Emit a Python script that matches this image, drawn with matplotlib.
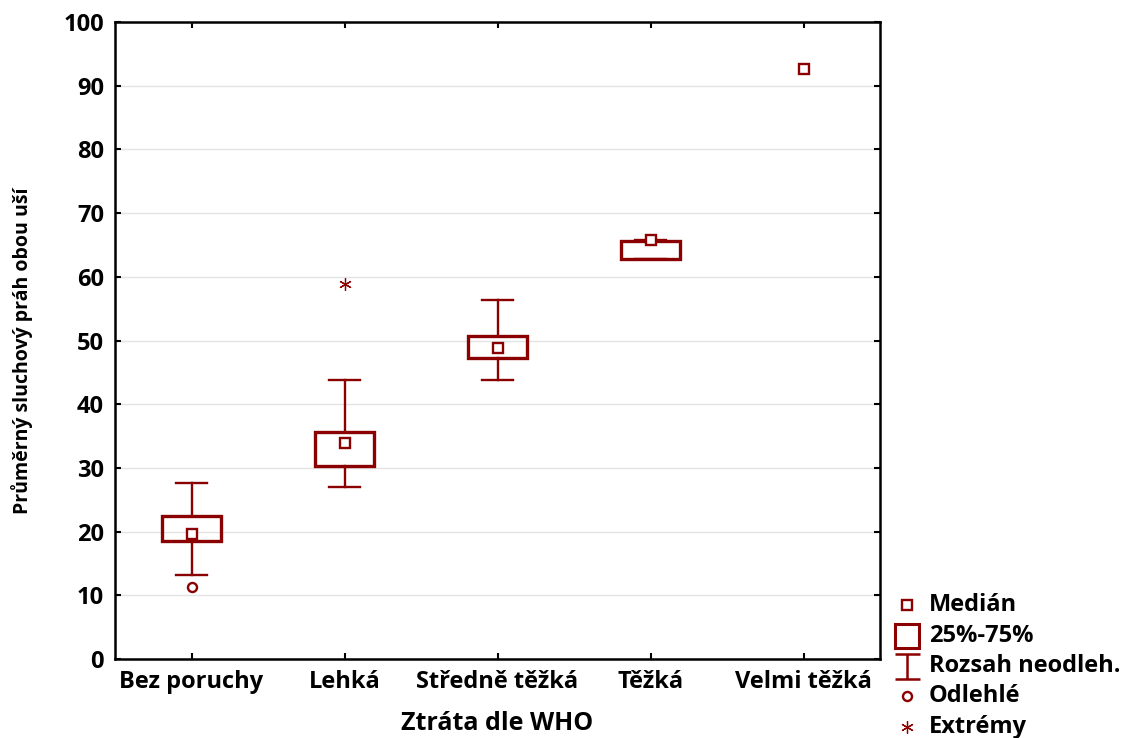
import matplotlib.pyplot as plt
from matplotlib.lines import Line2D
from matplotlib.patches import Rectangle
from matplotlib.path import Path

plt.rcParams['font.family'] = ['Open Sans', 'DejaVu Sans']
plt.rcParams['font.weight'] = 'bold'

# data
kategorie = ['Bez poruchy', 'Lehká', 'Středně těžká', 'Těžká', 'Velmi těžká']
median = [19.6, 33.9, 48.8, 65.8, 92.6]
q1 = [18.5, 30.3, 47.3, 62.8, None]
q3 = [22.4, 35.6, 50.7, 65.6, None]
whis_lo = [13.2, 27.0, 43.8, 62.8, None]
whis_hi = [27.6, 43.8, 56.4, 65.8, None]
odlehle_x = [0]
odlehle_y = [11.3]
extremy_x = [1]
extremy_y = [58.9]

barva = '#8b0000'

fig = plt.figure(figsize=(11.27, 7.38), dpi=100)
ax = fig.add_axes([115/1127, 79/738, 765/1127, 637/738])

box_w = 0.39
cap_w = 0.2
for i in range(len(kategorie)):
    if q1[i] is not None:
        # fousy
        ax.plot([i, i], [whis_lo[i], q1[i]], color=barva, lw=1.7, zorder=3)
        ax.plot([i, i], [q3[i], whis_hi[i]], color=barva, lw=1.7, zorder=3)
        ax.plot([i - cap_w/2, i + cap_w/2], [whis_lo[i]] * 2, color=barva, lw=1.7, zorder=3)
        ax.plot([i - cap_w/2, i + cap_w/2], [whis_hi[i]] * 2, color=barva, lw=1.7, zorder=3)
        ax.add_patch(Rectangle((i - box_w/2, q1[i]), box_w, q3[i] - q1[i],
                               fill=False, edgecolor=barva, lw=2.4, zorder=4))
    ax.plot(i, median[i], marker='s', ms=7.5, mfc='white', mec=barva, mew=1.7, ls='none', zorder=5)

ax.plot(odlehle_x, odlehle_y, marker='o', ms=6.5, mfc='white', mec=barva, mew=1.7, ls='none', zorder=5)
ax.plot(extremy_x, extremy_y, marker=(6, 2, 0), ms=9, color=barva, mew=0.9, ls='none', zorder=5)

ax.set_xlim(-0.5, 4.5)
ax.set_ylim(0, 100)
ax.set_yticks(range(0, 101, 10))
ax.set_xticks(range(len(kategorie)))
ax.set_xticklabels(kategorie)
ax.tick_params(direction='in', length=4, width=1.5, top=True, right=True, labelsize=17, pad=8)
ax.grid(axis='y', color='#e3e3e3', lw=1)
ax.set_axisbelow(True)
for s in ax.spines.values():
    s.set_linewidth(1.8)

fig.text(22/1127, 1 - 351/738, 'Průměrný sluchový práh obou uší', rotation=90,
         ha='center', va='center', fontsize=14, fontweight='bold')
fig.text(497/1127, 1 - 724/738, 'Ztráta dle WHO', ha='center', va='center',
         fontsize=18, fontweight='bold')

# legenda
i_tvar = Path([(-1, 1), (1, 1), (0, 1), (0, -1), (-1, -1), (1, -1)],
              [Path.MOVETO, Path.LINETO, Path.MOVETO, Path.LINETO, Path.MOVETO, Path.LINETO])
handles = [
    dict(marker='s', ms=7.5, mfc='white', mec=barva, mew=1.7),
    dict(marker='s', ms=17, mfc='white', mec=barva, mew=2.2),
    dict(marker=i_tvar, ms=18, mfc='none', mec=barva, mew=1.8),
    dict(marker='o', ms=6.5, mfc='white', mec=barva, mew=1.7),
    dict(marker=(6, 2, 0), ms=9, color=barva, mew=0.9),
]
labels = ['Medián', '25%-75%', 'Rozsah neodleh.', 'Odlehlé', 'Extrémy']
radky = [605, 636, 666, 696, 727]
for h, lab, y in zip(handles, labels, radky):
    yy = 1 - y/738
    fig.add_artist(Line2D([907/1127], [yy], ls='none', transform=fig.transFigure, **h))
    fig.text(929/1127, yy, lab, ha='left', va='center', fontsize=17, fontweight='bold')

fig.savefig('out.png', dpi=100)
